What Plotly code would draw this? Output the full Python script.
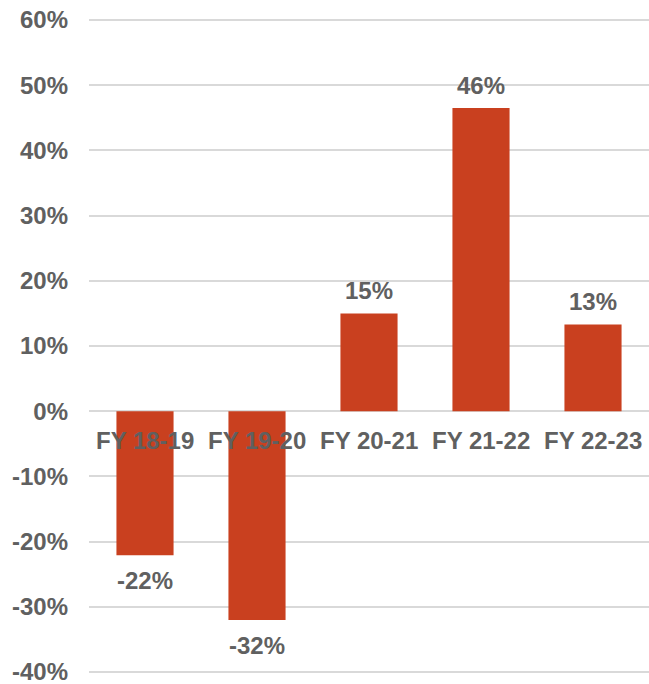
import plotly.graph_objects as go

categories = ["FY 18-19", "FY 19-20", "FY 20-21", "FY 21-22", "FY 22-23"]
growth = [-22.1, -32.0, 15.0, 46.5, 13.3]
labels = ["-22%", "-32%", "15%", "46%", "13%"]
y_ticks = [-40, -30, -20, -10, 0, 10, 20, 30, 40, 50, 60]
y_tick_text = ["-40%", "-30%", "-20%", "-10%", "0%", "10%", "20%", "30%", "40%", "50%", "60%"]

text_color = "#606060"
font_family = "Liberation Sans, Arial, sans-serif"

fig = go.Figure()
fig.add_trace(go.Bar(
    x=categories,
    y=growth,
    marker=dict(color="#C9401F", line=dict(width=0)),
    width=0.51,
    cliponaxis=False,
))

for c, v, t in zip(categories, growth, labels):
    fig.add_annotation(
        x=c, y=v, xref="x", yref="y",
        text=f"<b>{t}</b>",
        showarrow=False,
        yanchor="bottom" if v >= 0 else "top",
        yshift=7 if v >= 0 else -10,
        font=dict(family=font_family, size=24, color=text_color),
    )

for c in categories:
    fig.add_annotation(
        x=c, y=0, xref="x", yref="y",
        text=f"<b>{c}</b>",
        showarrow=False, yanchor="top", yshift=-14,
        font=dict(family=font_family, size=24, color=text_color),
    )

fig.update_layout(
    width=649, height=684,
    margin=dict(l=89, r=0, t=18, b=10),
    paper_bgcolor="white",
    plot_bgcolor="white",
    showlegend=False,
)
fig.update_xaxes(
    showticklabels=False, showgrid=False, zeroline=False, showline=False,
    range=[-0.5, 4.5],
)
fig.update_yaxes(
    range=[-40.3, 60.3],
    tickvals=y_ticks, ticktext=y_tick_text,
    tickfont=dict(family=font_family, size=24, color=text_color, weight="bold"),
    showgrid=True, gridcolor="#d9d9d9", gridwidth=1.5,
    zeroline=True, zerolinecolor="#d9d9d9", zerolinewidth=1.5,
    showline=False,
    ticks="", ticklabelstandoff=20,
    ticklabeloverflow="allow",
)

fig.write_html("out.html", config={"displayModeBar": False},
               post_script="document.body.style.margin='0';")
